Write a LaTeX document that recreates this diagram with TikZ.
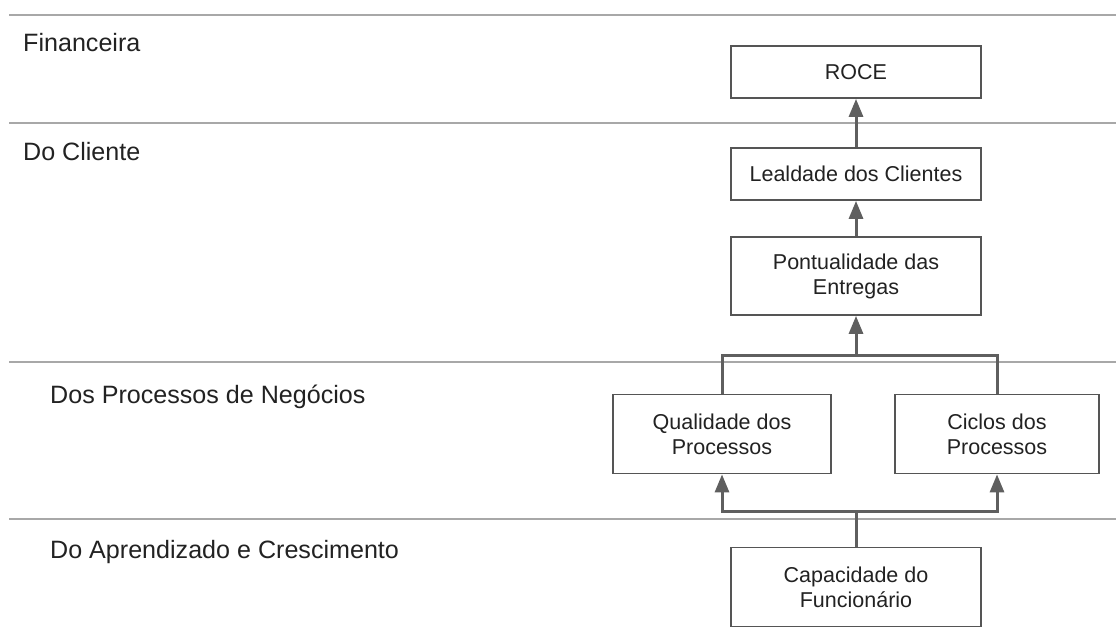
\documentclass[tikz,border=0pt]{standalone}
\usepackage{fontspec}
\setmainfont{Liberation Sans}
\usetikzlibrary{arrows.meta}
\definecolor{sepgray}{HTML}{A8A8A8}
\definecolor{boxgray}{HTML}{555555}
\definecolor{linkgray}{HTML}{5F5F5F}
\definecolor{txt}{HTML}{222222}
\tikzset{
  x=1pt, y=-1pt,
  sepline/.style={draw=sepgray, line width=2pt},
  lanelabel/.style={anchor=base west, inner sep=0pt, text=txt,
    font=\fontsize{25.1}{29}\selectfont},
  kpi/.style={draw=boxgray, line width=1.8pt, fill=white, text=txt,
    align=center, inner sep=0pt, font=\fontsize{21.5}{25}\selectfont},
  link/.style={draw=linkgray, line width=3pt},
  linkarrow/.style={link, -{Triangle[length=18pt, width=14pt]}},
}
\begin{document}
\begin{tikzpicture}
\useasboundingbox (0,0) rectangle (1116,640);
\fill[white] (0,0) rectangle (1116,640);

% perspective separators
\coordinate (s1a) at (9,15);  \coordinate (s1b) at (1116,15);
\coordinate (s2a) at (9,123); \coordinate (s2b) at (1116,123);
\coordinate (s3a) at (9,362); \coordinate (s3b) at (1116,362);
\coordinate (s4a) at (9,519); \coordinate (s4b) at (1116,519);
\draw[sepline] (s1a) -- (s1b);
\draw[sepline] (s2a) -- (s2b);
\draw[sepline] (s3a) -- (s3b);
\draw[sepline] (s4a) -- (s4b);

% perspective names
\node[lanelabel] (lfin) at (23,51) {Financeira};
\node[lanelabel] (lcli) at (23,160) {Do Cliente};
\node[lanelabel] (lproc) at (50,403) {Dos Processos de Negócios};
\node[lanelabel] (lapr) at (50,558) {Do Aprendizado e Crescimento};

% objectives
\node[kpi, minimum width=250pt, minimum height=52pt] (roce) at (856,72) {ROCE};
\node[kpi, minimum width=250pt, minimum height=52pt] (leal) at (856,174) {Lealdade dos Clientes};
\node[kpi, minimum width=250pt, minimum height=78pt] (pont) at (856,276) {Pontualidade das\\Entregas};
\node[kpi, minimum width=218pt, minimum height=79pt] (qual) at (722,434) {Qualidade dos\\Processos};
\node[kpi, minimum width=204pt, minimum height=79pt] (cicl) at (997,434) {Ciclos dos\\Processos};
\node[kpi, minimum width=250pt, minimum height=79pt] (capa) at (856,587) {Capacidade do\\Funcionário};

% cause-and-effect links
\coordinate (jtop) at (856,355);
\coordinate (jbot) at (856,511);
\draw[linkarrow] (leal.north) -- (roce.south);
\draw[linkarrow] (pont.north) -- (leal.south);
\draw[link] (qual.north) |- (jtop) -| (cicl.north);
\draw[linkarrow] (jtop) -- (pont.south);
\draw[link] (capa.north) -- (jbot);
\draw[linkarrow] (jbot) -| (qual.south);
\draw[linkarrow] (jbot) -| (cicl.south);
\end{tikzpicture}
\end{document}
